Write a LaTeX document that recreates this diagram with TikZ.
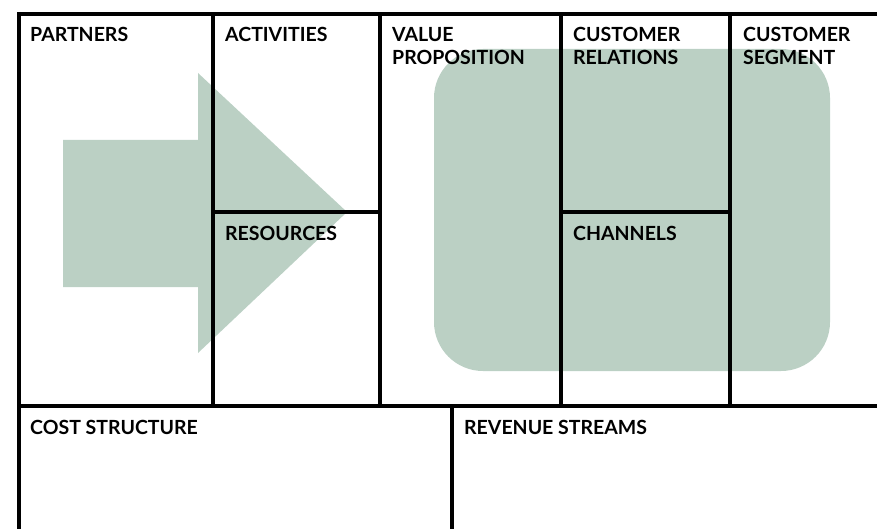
\documentclass[tikz,border=0pt]{standalone}
\usepackage{fontspec}
\setmainfont{Lato}
\definecolor{sage}{RGB}{187,208,196}
\tikzset{
    grid line/.style={line width=4pt, color=black},
    box label/.style={anchor=north west, inner sep=0pt, align=left, font=\bfseries\fontsize{19.5}{23}\selectfont}
}
\begin{document}
\begin{tikzpicture}[x=1pt, y=-1pt]
                \useasboundingbox (0,0) rectangle (877,529) ;
                % green shapes behind the grid
                \fill[color=sage] (63,140) -- (198,140) -- (198,73) -- (347,212) -- (198,353) -- (198,287) -- (63,287) -- cycle ;
                \fill[color=sage, rounded corners=49pt] (434,49) rectangle (830,371) ;
                % grid
                \draw[grid line] (17,14) -- (877,14) ;
                \draw[grid line] (19,12) -- (19,529) ;
                \draw[grid line] (17,406) -- (877,406) ;
                \draw[grid line] (213,14) -- (213,406) ;
                \draw[grid line] (380,14) -- (380,406) ;
                \draw[grid line] (561,14) -- (561,406) ;
                \draw[grid line] (730,14) -- (730,406) ;
                \draw[grid line] (213,212) -- (380,212) ;
                \draw[grid line] (561,212) -- (730,212) ;
                \draw[grid line] (452,406) -- (452,529) ;
                % labels
                \node[box label] (partners) at (30,27.5) {PARTNERS} ;
                \node[box label] (activities) at (225,27.5) {ACTIVITIES} ;
                \node[box label] (resources) at (225,226.5) {RESOURCES} ;
                \node[box label] (value) at (392,27.5) {VALUE\\PROPOSITION} ;
                \node[box label] (relations) at (573,27.5) {CUSTOMER\\RELATIONS} ;
                \node[box label] (channels) at (573,226.5) {CHANNELS} ;
                \node[box label] (segment) at (743,27.5) {CUSTOMER\\SEGMENT} ;
                \node[box label] (costs) at (30,420) {COST STRUCTURE} ;
                \node[box label] (revenue) at (464,420) {REVENUE STREAMS} ;
\end{tikzpicture}
\end{document}
